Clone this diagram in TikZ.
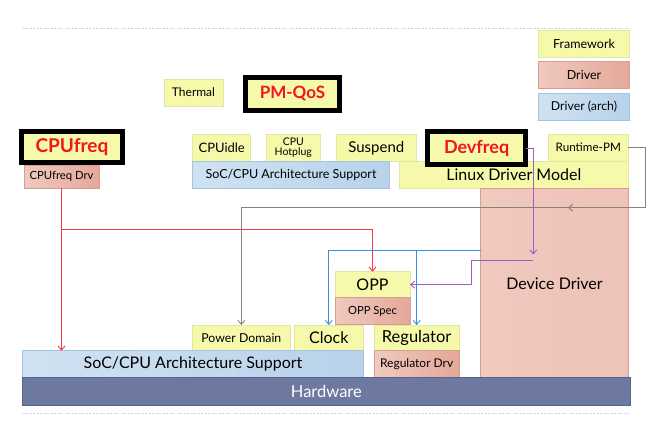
\documentclass[tikz,border=0pt]{standalone}
\usepackage{fontspec}
\setmainfont{Lato}
\usetikzlibrary{arrows.meta}
\definecolor{yfill}{HTML}{F6F9AA}
\definecolor{ydraw}{HTML}{E2E7A4}
\definecolor{pfillL}{HTML}{F0C9BF}
\definecolor{pfillR}{HTML}{E4A899}
\definecolor{pdraw}{HTML}{D89F91}
\definecolor{bfillL}{HTML}{CFE2F2}
\definecolor{bfillR}{HTML}{B8D2EA}
\definecolor{bdraw}{HTML}{A3C4E2}
\definecolor{hwfill}{HTML}{6D79A0}
\definecolor{hwdraw}{HTML}{58648C}
\definecolor{cred}{HTML}{FF3347}
\definecolor{cgray}{HTML}{8C7F7B}
\definecolor{cblue}{HTML}{3890DA}
\definecolor{cpurp}{HTML}{A05EC2}
\definecolor{hl}{HTML}{F2141E}
\definecolor{dotc}{HTML}{C9D6E3}
\newcommand\fsz[1]{\fontsize{#1}{#1}\selectfont}
\tikzset{
  bx/.style={rectangle, inner sep=0pt, outer sep=0pt, line width=0.8pt, align=center, text=black},
  fw/.style={bx, draw=ydraw, fill=yfill},
  drv/.style={bx, draw=pdraw, left color=pfillL, right color=pfillR},
  ddrv/.style={bx, draw=pdraw, left color=pfillL, middle color=pfillR, right color=pfillL!80!pfillR},
  arch/.style={bx, draw=bdraw, left color=bfillL, right color=bfillR},
  hlbox/.style={bx, draw=black, fill=yfill, line width=5pt, text=hl},
  hwbox/.style={bx, draw=hwdraw, fill=hwfill, text=white},
  conn/.style={line width=0.9pt, -{Straight Barb[length=4pt,width=7pt]}},
  plain/.style={line width=0.9pt},
  dotline/.style={dotc, line width=1pt, dash pattern=on 2pt off 1.5pt}
}
\begin{document}
\begin{tikzpicture}[x=1pt,y=-1pt]
\useasboundingbox (0,0) rectangle (656,424);
% dotted rules
\coordinate (t1) at (22.7,28.5); \coordinate (t2) at (629,28.5);
\coordinate (b1) at (22.7,413.3); \coordinate (b2) at (629,413.3);
\draw[dotline] (t1) -- (t2);
\draw[dotline] (b1) -- (b2);
% legend
\node[fw, minimum width=91pt, minimum height=27pt, font=\fsz{12.5}] (lfw) at (584,43.5) {Framework};
\node[drv, minimum width=91pt, minimum height=27.5pt, font=\fsz{12.5}] (ldrv) at (584,74.8) {Driver};
\node[arch, minimum width=91pt, minimum height=27pt, font=\fsz{12.3}] (larch) at (584,106.5) {Driver (arch)};
% top row
\node[fw, minimum width=59pt, minimum height=27pt, font=\fsz{12}] (thermal) at (193.5,92.5) {Thermal};
\node[hlbox, minimum width=94.5pt, minimum height=33pt, font=\bfseries\fsz{17}] (pmqos) at (292.5,93.5) {PM-QoS};
% framework row
\node[fw, minimum width=58pt, minimum height=27.5pt, font=\fsz{13}] (cpuidle) at (221.7,147.8) {CPUidle};
\node[fw, minimum width=53.3pt, minimum height=27.5pt, font=\fsz{10.5}] (hotplug) at (293.3,147.8) {CPU\\[-1pt]Hotplug};
\node[fw, minimum width=80.7pt, minimum height=27.5pt, font=\fsz{15}] (suspend) at (376.3,147.8) {Suspend};
\node[fw, minimum width=80pt, minimum height=27pt, font=\fsz{11.7}] (rpm) at (588.3,147.5) {Runtime-PM};
\node[arch, minimum width=196.6pt, minimum height=26.8pt, font=\fsz{12.5}] (soctop) at (291,174.9) {SoC/CPU Architecture Support};
\node[fw, minimum width=229pt, minimum height=26.8pt, font=\fsz{16}] (ldm) at (513.8,174.9) {Linux Driver Model};
\node[hlbox, minimum width=98.2pt, minimum height=32.3pt, font=\bfseries\fsz{18}] (devfreq) at (476.6,147.9) {Devfreq};
% cpufreq
\node[drv, minimum width=75pt, minimum height=23.3pt, font=\fsz{11.3}] (cpudrv) at (61.5,176.6) {CPUfreq Drv};
\node[hlbox, minimum width=101.3pt, minimum height=31.1pt, font=\bfseries\fsz{19}] (cpufreq) at (71.9,147.2) {CPUfreq};
% device driver
\node[ddrv, minimum width=147.6pt, minimum height=190pt, font=\fsz{16}] (devdrv) at (554.5,283.3) {Device Driver};
% OPP
\node[fw, minimum width=75pt, minimum height=26pt, font=\fsz{16}] (opp) at (372.5,284.7) {OPP};
\node[drv, minimum width=75pt, minimum height=26.6pt, font=\fsz{11.2}] (oppspec) at (372.5,311) {OPP Spec};
% lower row
\node[fw, minimum width=97.3pt, minimum height=25.7pt, font=\fsz{12.3}] (pd) at (241.35,337.9) {Power Domain};
\node[fw, minimum width=69pt, minimum height=25.7pt, font=\fsz{16}] (clock) at (328.8,337.9) {Clock};
\node[fw, minimum width=85.3pt, minimum height=25.7pt, font=\fsz{16.5}] (reg) at (416.65,337.9) {Regulator};
\node[drv, minimum width=85.3pt, minimum height=27.6pt, font=\fsz{12}] (regdrv) at (416.65,364.5) {Regulator Drv};
\node[arch, minimum width=340.6pt, minimum height=26.6pt, font=\fsz{16}] (socbot) at (193,364) {SoC/CPU Architecture Support};
\node[hwbox, minimum width=607.3pt, minimum height=27.7pt, font=\fsz{16.5}] (hw) at (326.35,391.2) {Hardware};
% red connectors
\coordinate (rj) at (61.5,229.3);
\draw[conn, cred] (cpudrv.south) -- (cpudrv.south |- socbot.north);
\draw[conn, cred] (rj) -| (opp.north);
% gray connector
\coordinate (g1) at (645,207.7);
\coordinate (gm) at (568,207.7);
\draw[plain, cgray] (rpm.east) -| (g1) -- (gm);
\draw[conn, cgray] (g1) -- (gm);
\draw[conn, cgray] (gm) -- (pd.north |- gm) -- (pd.north);
% purple connectors
\coordinate (p1) at (533.3,148);
\coordinate (p2) at (533.3,254.5);
\coordinate (p3) at (533.3,260.7);
\coordinate (p4) at (471.7,260.7);
\draw[conn, cpurp] (devfreq.east |- p1) -- (p1) -- (p2);
\draw[conn, cpurp] (p3) -- (p4) |- (opp.east);
% blue connectors
\coordinate (bl) at (480.7,250);
\draw[conn, cblue] (bl) -| (clock.north);
\draw[conn, cblue] (reg.north |- bl) -- (reg.north);
\end{tikzpicture}
\end{document}
